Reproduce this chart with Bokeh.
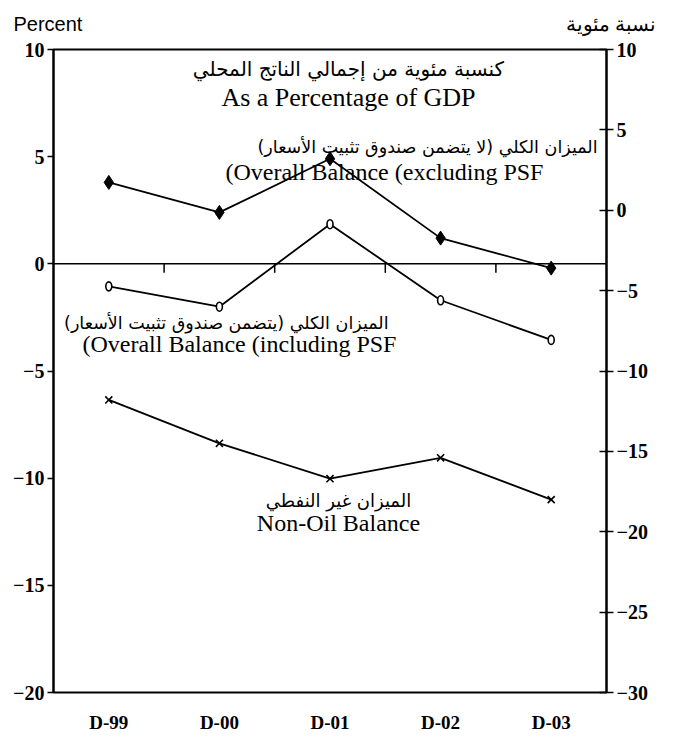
from bokeh.plotting import figure
from bokeh.models import Range1d, LinearAxis, FixedTicker, Span, Label, Title
from bokeh.embed import file_html
from bokeh.resources import INLINE

# ---------------- data ----------------
categories = ["D-99", "D-00", "D-01", "D-02", "D-03"]
overall_excl_psf = [3.8, 2.4, 4.9, 1.2, -0.2]        # left axis
overall_incl_psf = [-1.05, -2.0, 1.85, -1.7, -3.55]  # left axis
non_oil_balance = [-11.8, -14.5, -16.7, -15.4, -18.0]  # right axis
left_ticks = [-20, -15, -10, -5, 0, 5, 10]
right_ticks = [-30, -25, -20, -15, -10, -5, 0, 5, 10]

left_axis_title = "Percent"
right_axis_title = "نسبة مئوية"
title_ar = "كنسبة مئوية من إجمالي الناتج المحلي"
title_en = "As a Percentage of GDP"
excl_ar = "الميزان الكلي (لا يتضمن صندوق تثبيت الأسعار)"
excl_en = "(Overall Balance (excluding PSF"
incl_ar = "الميزان الكلي (يتضمن صندوق تثبيت الأسعار)"
incl_en = "(Overall Balance (including PSF"
nonoil_ar = "الميزان غير النفطي"
nonoil_en = "Non-Oil Balance"

xs = list(range(len(categories)))
bounds = [i + 0.5 for i in range(len(categories) - 1)]

W, H = 668, 735
FL, FT, FR, FB = 53, 49, 606, 692   # frame edges in page pixels
p = figure(width=W, height=H, output_backend="svg", toolbar_location=None,
           x_range=Range1d(-0.5, len(categories) - 0.5),
           y_range=Range1d(left_ticks[0], left_ticks[-1]),
           min_border_left=FL, min_border_right=W - FR,
           min_border_top=FT, min_border_bottom=H - FB)
p.extra_y_ranges = {"right": Range1d(right_ticks[0], right_ticks[-1])}

p.xgrid.visible = False
p.ygrid.visible = False
p.outline_line_color = "black"
p.outline_line_width = 2
p.background_fill_color = "white"
p.border_fill_color = "white"

TICK_FONT = "Liberation Serif"

# bottom axis: category labels only
xa = p.xaxis[0]
xa.ticker = FixedTicker(ticks=xs)
xa.major_label_overrides = {i: c for i, c in enumerate(categories)}
xa.major_tick_line_color = None
xa.minor_tick_line_color = None
xa.axis_line_color = None
xa.major_label_standoff = 13
xa.major_label_text_font = TICK_FONT
xa.major_label_text_font_style = "bold"
xa.major_label_text_font_size = "19px"
xa.major_label_text_color = "black"

# left axis
ya = p.yaxis[0]
ya.ticker = FixedTicker(ticks=left_ticks)
ya.axis_line_width = 2
ya.axis_line_color = "black"
ya.major_tick_in = 0
ya.major_tick_out = 6
ya.major_tick_line_width = 1.5
ya.minor_tick_line_color = None
ya.major_label_standoff = 3
ya.major_label_text_font = TICK_FONT
ya.major_label_text_font_style = "bold"
ya.major_label_text_font_size = "20px"
ya.major_label_text_color = "black"

# right axis
ra = LinearAxis(y_range_name="right", ticker=FixedTicker(ticks=right_ticks))
ra.axis_line_width = 2
ra.axis_line_color = "black"
ra.major_tick_in = 7
ra.major_tick_out = 7
ra.major_tick_line_width = 1.5
ra.minor_tick_line_color = None
ra.major_label_standoff = 3
ra.major_label_text_font = TICK_FONT
ra.major_label_text_font_style = "bold"
ra.major_label_text_font_size = "20px"
ra.major_label_text_color = "black"
p.add_layout(ra, "right")

# unit captions above the two axes (one title row: left caption ... right caption)
caption = left_axis_title + "\u00a0" * 87 + right_axis_title
t_cap = Title(text=caption, align="left", vertical_align="top",
              offset=-40, standoff=25, text_font="Liberation Sans",
              text_font_size="20px", text_font_style="normal", text_color="black")
p.add_layout(t_cap, "above")

# zero line with category separators
p.add_layout(Span(location=0, dimension="width", line_color="black", line_width=1.5))
p.segment(x0=bounds, y0=[0] * len(bounds), x1=bounds, y1=[-0.42] * len(bounds),
          line_color="black", line_width=1.5)

# series
p.line(xs, overall_excl_psf, line_color="black", line_width=1.8)
p.scatter(xs, overall_excl_psf, marker="diamond", size=14, color="black")

p.line(xs, overall_incl_psf, line_color="black", line_width=1.8)
p.ellipse(x=xs, y=overall_incl_psf, width=6, height=9, width_units="screen",
          height_units="screen", fill_color="white", line_color="black", line_width=1.6)

p.line(xs, non_oil_balance, line_color="black", line_width=1.8, y_range_name="right")
p.scatter(xs, non_oil_balance, marker="x", size=10, line_color="black", line_width=1.6,
          y_range_name="right")


# annotations (page coordinates converted to frame-relative screen units)
def lab(text, X, Y, align, font, size, style="normal"):
    p.add_layout(Label(x=X - FL, y=FB - Y, x_units="screen", y_units="screen",
                       text=text, text_align=align, text_baseline="middle",
                       text_font=font, text_font_size=size, text_font_style=style,
                       text_color="black"))


AR_FONT = "DejaVu Sans"
EN_FONT = "Liberation Serif"
lab(title_ar, 348, 68, "center", AR_FONT, "20px")
lab(title_en, 348, 97, "center", EN_FONT, "26px")
lab(excl_ar, 597, 146, "right", AR_FONT, "17.5px")
lab(excl_en, 225, 171, "left", EN_FONT, "24px")
lab(incl_ar, 388, 322, "right", AR_FONT, "17.5px")
lab(incl_en, 82, 343, "left", EN_FONT, "24px")
lab(nonoil_ar, 338, 500, "center", AR_FONT, "18px")
lab(nonoil_en, 338, 522, "center", EN_FONT, "24px")

open("out.html", "w").write(file_html(p, INLINE))
